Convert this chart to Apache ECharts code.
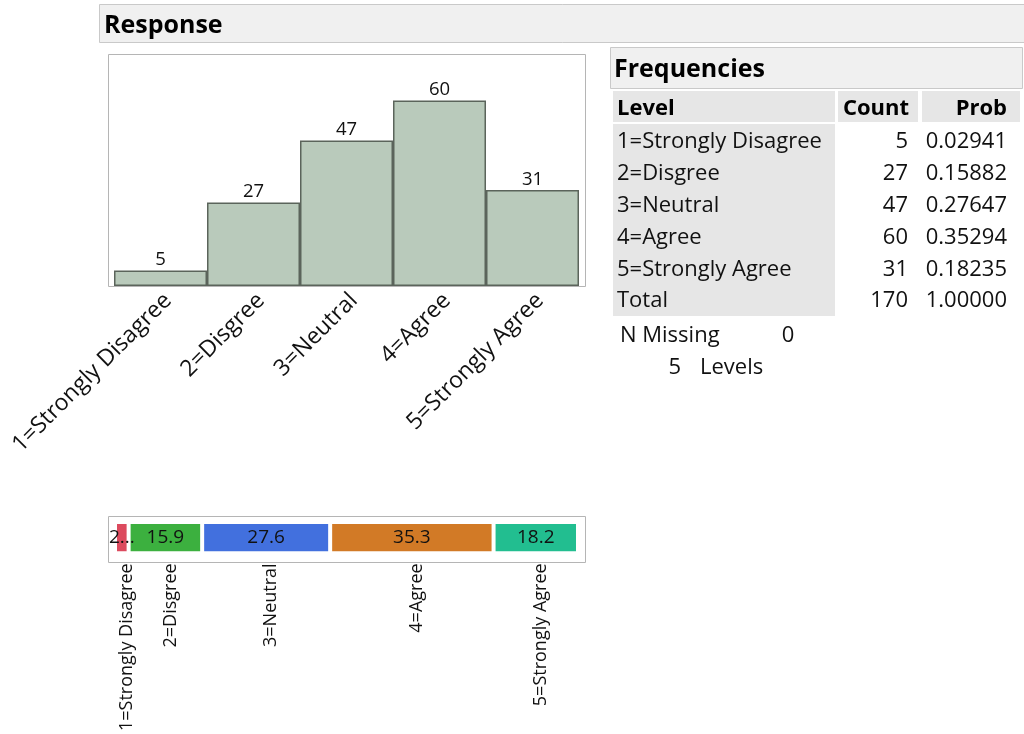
<!DOCTYPE html>
<html><head><meta charset="utf-8">
<script src="https://cdn.jsdelivr.net/npm/echarts@6/dist/echarts.min.js"></script>
<style>html,body{margin:0;padding:0;background:#fff}#c{width:1024px;height:734px}</style>
</head><body><div id="c"></div><script>
// ---- data ----
const title = 'Response';
const levels = ['1=Strongly Disagree', '2=Disgree', '3=Neutral', '4=Agree', '5=Strongly Agree'];
const counts = [5, 27, 47, 60, 31];
const probs = [0.02941, 0.15882, 0.27647, 0.35294, 0.18235];
const totalCount = 170;
const totalProb = '1.00000';
const nMissing = 0;
const nLevels = 5;
const segColors = ['#dc4a5e', '#3cb03f', '#4270de', '#d27a26', '#22be90'];

// ---- derived positions for labels ----
const MOSAIC_LABEL_SHIFT = 0.011;   // small rightward nudge of the vertical names
const HIST_LABEL_SHIFT = 0.08;      // small rightward nudge of the slanted names
const centers = [];
let acc = 0;
probs.forEach(p => { centers.push(acc + p / 2 + MOSAIC_LABEL_SHIFT); acc += p; });
const histLabelPos = levels.map((_, i) => i + HIST_LABEL_SHIFT);

function nearest(arr, v) {
  let best = 0;
  arr.forEach((c, k) => { if (Math.abs(c - v) < Math.abs(arr[best] - v)) best = k; });
  return best;
}

const FF = '"Open Sans", "Noto Sans", sans-serif';
const chart = echarts.init(document.getElementById('c'), null, {renderer: 'canvas'});

const graphics = [];
// Response header box
graphics.push({type: 'rect', shape: {x: 99.5, y: 4.5, width: 930, height: 38}, style: {fill: '#f0f0f0', stroke: '#c9c9c9', lineWidth: 1}, z: -1});
graphics.push({type: 'text', style: {x: 104, y: 26, text: title, font: 'bold 25px ' + FF, fill: '#000', textVerticalAlign: 'middle'}});
// histogram frame
graphics.push({type: 'rect', shape: {x: 108.5, y: 54.5, width: 477, height: 232}, style: {fill: 'none', stroke: '#b5b5b5', lineWidth: 1}, z: 10});
// mosaic frame
graphics.push({type: 'rect', shape: {x: 108.5, y: 516.5, width: 477, height: 46}, style: {fill: 'none', stroke: '#b5b5b5', lineWidth: 1}, z: 10});
// Frequencies header
graphics.push({type: 'rect', shape: {x: 610.5, y: 47.5, width: 412, height: 41}, style: {fill: '#f0f0f0', stroke: '#c9c9c9', lineWidth: 1}, z: -1});
graphics.push({type: 'text', style: {x: 614, y: 70, text: 'Frequencies', font: 'bold 25px ' + FF, fill: '#000', textVerticalAlign: 'middle'}});
// table header cells
graphics.push({type: 'rect', shape: {x: 613, y: 91, width: 222, height: 31}, style: {fill: '#e6e6e6'}, z: -1});
graphics.push({type: 'rect', shape: {x: 838, y: 91, width: 80, height: 31}, style: {fill: '#e6e6e6'}, z: -1});
graphics.push({type: 'rect', shape: {x: 922, y: 91, width: 98, height: 31}, style: {fill: '#e6e6e6'}, z: -1});
graphics.push({type: 'rect', shape: {x: 613, y: 124, width: 222, height: 192}, style: {fill: '#e6e6e6'}, z: -1});
const hFont = 'bold 22px ' + FF;
const bFont = '22px ' + FF;
graphics.push({type: 'text', style: {x: 617, y: 109, text: 'Level', font: hFont, fill: '#000', textVerticalAlign: 'middle'}});
graphics.push({type: 'text', style: {x: 909, y: 109, text: 'Count', font: hFont, fill: '#000', textAlign: 'right', textVerticalAlign: 'middle'}});
graphics.push({type: 'text', style: {x: 1007, y: 109, text: 'Prob', font: hFont, fill: '#000', textAlign: 'right', textVerticalAlign: 'middle'}});
const rowY0 = 142, rowH = 32;
levels.forEach((lv, i) => {
  const y = rowY0 + i * rowH;
  graphics.push({type: 'text', style: {x: 617, y: y, text: lv, font: bFont, fill: '#111', textVerticalAlign: 'middle'}});
  graphics.push({type: 'text', style: {x: 908, y: y, text: String(counts[i]), font: bFont, fill: '#111', textAlign: 'right', textVerticalAlign: 'middle'}});
  graphics.push({type: 'text', style: {x: 1007, y: y, text: probs[i].toFixed(5), font: bFont, fill: '#111', textAlign: 'right', textVerticalAlign: 'middle'}});
});
const ty = rowY0 + levels.length * rowH - 1;
graphics.push({type: 'text', style: {x: 617, y: ty, text: 'Total', font: bFont, fill: '#111', textVerticalAlign: 'middle'}});
graphics.push({type: 'text', style: {x: 908, y: ty, text: String(totalCount), font: bFont, fill: '#111', textAlign: 'right', textVerticalAlign: 'middle'}});
graphics.push({type: 'text', style: {x: 1007, y: ty, text: totalProb, font: bFont, fill: '#111', textAlign: 'right', textVerticalAlign: 'middle'}});
graphics.push({type: 'text', style: {x: 620, y: 336, text: 'N Missing', font: bFont, fill: '#111', textVerticalAlign: 'middle'}});
graphics.push({type: 'text', style: {x: 788, y: 336, text: String(nMissing), font: bFont, fill: '#111', textAlign: 'center', textVerticalAlign: 'middle'}});
graphics.push({type: 'text', style: {x: 681, y: 368, text: String(nLevels), font: bFont, fill: '#111', textAlign: 'right', textVerticalAlign: 'middle'}});
graphics.push({type: 'text', style: {x: 700, y: 368, text: 'Levels', font: bFont, fill: '#111', textVerticalAlign: 'middle'}});

const mosaicSeries = levels.map((lv, i) => ({
  type: 'bar', name: lv, stack: 'm', xAxisIndex: 2, yAxisIndex: 1,
  data: [probs[i]], barWidth: 33,
  itemStyle: {color: segColors[i], borderColor: '#ffffff', borderWidth: 2},
  label: {
    show: true, position: 'inside', color: '#111', fontSize: 19, fontFamily: FF,
    formatter: () => { const s = (probs[i] * 100).toFixed(1); return probs[i] < 0.05 ? s[0] + '...' : s; }
  },
  silent: true
}));

chart.setOption({
  animation: false,
  textStyle: {fontFamily: FF},
  graphic: graphics,
  grid: [
    {left: 114, top: 54, width: 465, height: 232},
    {left: 115, top: 523, width: 463, height: 31}
  ],
  xAxis: [
    {type: 'category', gridIndex: 0, data: levels,
     axisLine: {show: false}, axisTick: {show: false}, axisLabel: {show: false}},
    {type: 'value', gridIndex: 0, min: -0.5, max: levels.length - 0.5, position: 'bottom',
     axisLine: {show: false}, axisTick: {show: false}, splitLine: {show: false},
     axisLabel: {customValues: histLabelPos, rotate: 45, fontSize: 23, color: '#111', fontFamily: FF, margin: 11,
       formatter: v => levels[nearest(histLabelPos, v)]}},
    {type: 'value', gridIndex: 1, min: 0, max: 1,
     axisLine: {show: false}, axisTick: {show: false}, splitLine: {show: false},
     axisLabel: {
       customValues: centers, rotate: 90, fontSize: 18, color: '#111', fontFamily: FF, margin: 11,
       formatter: v => levels[nearest(centers, v)]
     }}
  ],
  yAxis: [
    {type: 'value', gridIndex: 0, min: 0, max: 75, show: false},
    {type: 'category', gridIndex: 1, data: [title], show: false}
  ],
  series: [
    {type: 'bar', xAxisIndex: 0, yAxisIndex: 0, data: counts, barCategoryGap: '0%',
     itemStyle: {color: '#b9cabb', borderColor: '#5b645b', borderWidth: 1.5},
     label: {show: true, position: 'top', distance: 1, fontSize: 18.5, color: '#111', fontFamily: FF},
     silent: true}
  ].concat(mosaicSeries)
});
</script></body></html>
